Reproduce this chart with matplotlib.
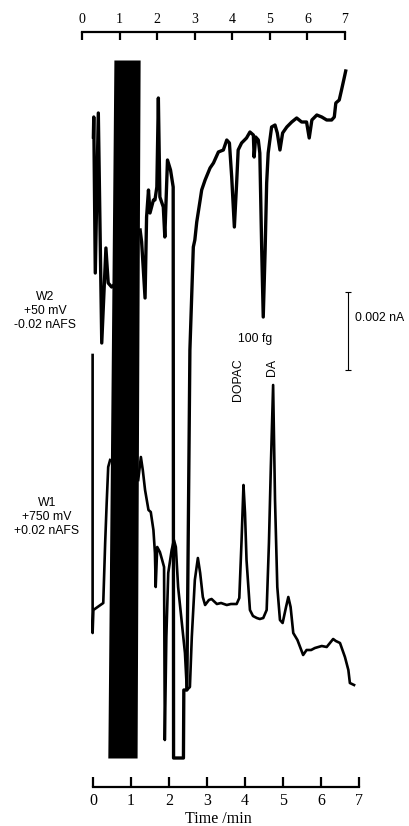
import numpy as np
import matplotlib
matplotlib.use('Agg')
import matplotlib.pyplot as plt

# W2 trace (+50 mV), time in min, signal in recorder units
w2_t = [0.01, 0.02, 0.06, 0.14, 0.23, 0.34, 0.40, 0.49, 0.55]
w2_y = [650, 670, 514, 674, 444, 539, 504, 500, 502]
w2b_t = [1.24, 1.28, 1.37, 1.41, 1.46, 1.50, 1.59, 1.63, 1.68, 1.72, 1.76, 1.85, 1.89,
         1.96, 2.04, 2.11, 2.12, 2.38, 2.39, 2.47, 2.55, 2.64, 2.68, 2.73, 2.82, 2.86,
         2.95, 3.08, 3.17, 3.30, 3.43, 3.52, 3.59, 3.65, 3.72, 3.78, 3.82, 3.91, 4.04,
         4.13, 4.22, 4.24, 4.28, 4.35, 4.39, 4.44, 4.48, 4.53, 4.57, 4.61, 4.70, 4.79,
         4.85, 4.92, 4.99, 5.10, 5.23, 5.36, 5.49, 5.62, 5.69, 5.76, 5.89, 6.02, 6.15,
         6.28, 6.35, 6.39, 6.48, 6.54, 6.61, 6.65]
w2b_y = [557, 545, 489, 570, 597, 574, 587, 587, 600, 689, 590, 580, 550,
         627, 617, 600, 29, 29, 97, 97, 437, 540, 547, 565, 587, 597,
         607, 619, 624, 635, 637, 647, 644, 610, 560, 604, 637, 644, 649,
         655, 652, 630, 650, 647, 634, 537, 470, 537, 604, 634, 660, 662,
         654, 637, 654, 660, 665, 669, 665, 665, 649, 667, 672, 670, 667,
         667, 670, 684, 687, 697, 709, 716]

# W1 trace (+750 mV)
w1_t = [-0.01, -0.01, 0.01, 0.27, 0.32, 0.36, 0.40, 0.45]
w1_y = [432, 154, 177, 184, 244, 284, 320, 327]
w1b_t = [1.19, 1.26, 1.31, 1.37, 1.46, 1.52, 1.59, 1.63, 1.65, 1.69, 1.76, 1.82, 1.87,
         1.89, 1.93, 1.98, 2.07, 2.13, 2.18, 2.24, 2.33, 2.42, 2.47, 2.55, 2.60, 2.68,
         2.76, 2.82, 2.89, 2.95, 3.05, 3.12, 3.26, 3.37, 3.52, 3.63, 3.78, 3.85, 3.91,
         3.96, 4.00, 4.04, 4.13, 4.21, 4.31, 4.39, 4.48, 4.57, 4.63, 4.68, 4.74, 4.79,
         4.85, 4.92, 4.99, 5.08, 5.14, 5.20, 5.27, 5.38, 5.53, 5.62, 5.74, 5.84, 6.02,
         6.15, 6.32, 6.39, 6.50, 6.63, 6.72, 6.76, 6.87]
w1b_y = [307, 330, 317, 297, 277, 275, 257, 234, 200, 240, 235, 227, 220,
         47, 150, 214, 237, 247, 240, 200, 167, 134, 97, 100, 150, 207,
         229, 214, 190, 182, 187, 188, 183, 184, 182, 183, 183, 189, 247,
         302, 274, 227, 177, 171, 169, 168, 169, 177, 244, 320, 402, 287,
         200, 167, 164, 180, 190, 180, 154, 147, 132, 137, 137, 139, 141,
         140, 148, 146, 144, 130, 117, 104, 102]

# saturated injection band
band_y = [29, 727]
band_left = [0.39, 0.55]
band_right = [1.16, 1.24]

# scale bar 0.002 nA
bar_t = 6.71
bar_mid = 456
bar_half = 39

ticks = [0, 1, 2, 3, 4, 5, 6, 7]

fig = plt.figure(figsize=(4.1, 8.26), dpi=100)
ax = fig.add_axes([93/410, 39/826, 266/410, 747/826])
ax.set_xlim(0, 7)
ax.set_ylim(0, 747)

ax.fill_betweenx(band_y, band_left, band_right, color='black', lw=0)
ax.plot(w2_t, w2_y, color='black', lw=2.4, clip_on=False)
ax.plot(w2b_t, w2b_y, color='black', lw=2.4, clip_on=False)
ax.plot(w1_t, w1_y, color='black', lw=1.9, clip_on=False)
ax.plot(w1b_t, w1b_y, color='black', lw=1.9, clip_on=False)
ax.errorbar(bar_t, bar_mid, yerr=bar_half, color='black', lw=0.8, capsize=2.5, capthick=0.8)

for s in ['top', 'right', 'left']:
    ax.spines[s].set_visible(False)
ax.spines['bottom'].set_linewidth(1.6)
ax.set_yticks([])
ax.set_xticks(ticks)
ax.tick_params(axis='x', direction='in', length=7, width=1.6, pad=4, labelsize=11.5)
for lab in ax.get_xticklabels():
    lab.set_family('Liberation Serif')

ax.text(4.26, 448, '100 fg', ha='center', va='center', fontsize=8.8, family='Liberation Sans')
ax.text(3.82, 407, 'DOPAC', ha='center', va='center', rotation=90, fontsize=8.8, family='Liberation Sans')
ax.text(4.71, 420, 'DA', ha='center', va='center', rotation=90, fontsize=8.8, family='Liberation Sans')
ax.text(6.89, 469, '0.002 nA', ha='left', va='center', fontsize=8.8, family='Liberation Sans')

fig.text(45/410, 1 - 311/826, 'W2\n+50 mV\n-0.02 nAFS', ha='center', va='center',
         fontsize=8.8, family='Liberation Sans', linespacing=1.25)
fig.text(47/410, 1 - 517/826, 'W1\n+750 mV\n+0.02 nAFS', ha='center', va='center',
         fontsize=8.8, family='Liberation Sans', linespacing=1.25)
fig.text(218/410, 1 - 819/826, 'Time /min', ha='center', va='center',
         fontsize=11.5, family='Liberation Serif')

# upper time axis
ax2 = fig.add_axes([82/410, (826-32)/826 - 0.02, 263/410, 0.02])
ax2.set_xlim(0, 7)
ax2.patch.set_visible(False)
for s in ['bottom', 'right', 'left']:
    ax2.spines[s].set_visible(False)
ax2.spines['top'].set_linewidth(1.6)
ax2.set_yticks([])
ax2.set_xticks(ticks)
ax2.xaxis.set_ticks_position('top')
ax2.tick_params(axis='x', direction='in', length=6, width=1.6, pad=4, labelsize=10)
for lab in ax2.get_xticklabels():
    lab.set_family('Liberation Serif')

plt.savefig('out.png', dpi=100)
